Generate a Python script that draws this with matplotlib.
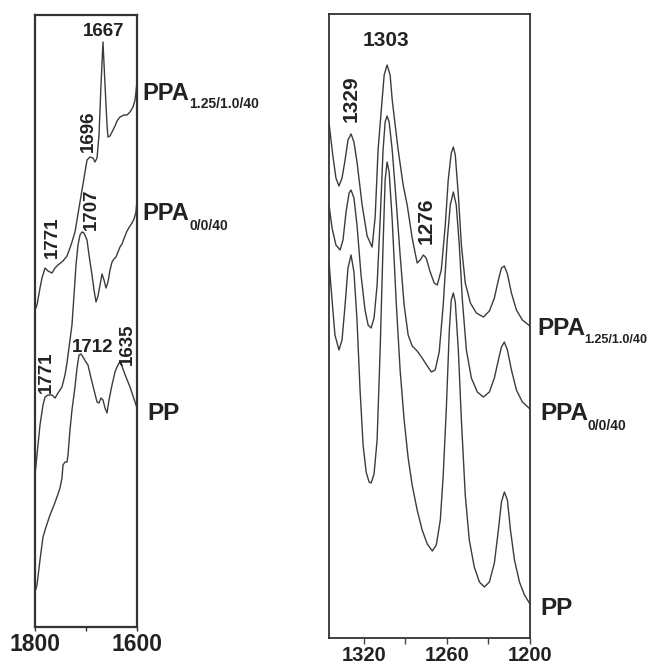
import matplotlib
matplotlib.use("Agg")
import matplotlib.pyplot as plt

# ---------------- data: left panel (1800-1600 cm-1) ----------------
wn_l_ppa125 = [1800.0, 1796.1, 1790.2, 1786.3, 1780.4, 1774.5, 1766.7, 1760.8, 1754.9, 1745.1,
               1737.3, 1731.4, 1727.5, 1721.6, 1709.8, 1698.0, 1692.2, 1686.3, 1682.4, 1678.4,
               1674.5, 1670.6, 1666.7, 1662.7, 1658.8, 1656.9, 1652.9, 1649.0, 1643.1, 1639.2,
               1633.3, 1625.5, 1619.6, 1613.7, 1607.8, 1603.9, 1602.0, 1600.0]
ab_l_ppa125 = [317, 322, 339, 349, 359, 356, 354, 359, 362, 366,
               371, 379, 385, 395, 431, 467, 470, 469, 465, 469,
               492, 542, 585, 542, 502, 490, 491, 495, 501, 506,
               510, 512, 512, 515, 520, 527, 535, 545]

wn_l_ppa0 = [1800.0, 1796.1, 1790.2, 1784.3, 1780.4, 1774.5, 1766.7, 1760.8, 1754.9, 1747.1,
             1741.2, 1737.3, 1731.4, 1727.5, 1723.5, 1719.6, 1715.7, 1711.8, 1707.8, 1703.9,
             1698.0, 1694.1, 1688.2, 1684.3, 1680.4, 1676.5, 1672.5, 1668.6, 1664.7, 1660.8,
             1656.9, 1652.9, 1649.0, 1645.1, 1641.2, 1637.3, 1633.3, 1629.4, 1623.5, 1619.6,
             1613.7, 1609.8, 1605.9, 1602.0, 1600.0]
ab_l_ppa0 = [152, 172, 202, 222, 230, 232, 232, 229, 234, 240,
             252, 264, 287, 302, 332, 362, 382, 392, 395, 394,
             387, 372, 352, 337, 325, 331, 342, 353, 347, 339,
             345, 357, 365, 368, 370, 375, 380, 383, 391, 396,
             401, 404, 408, 415, 427]

wn_l_pp = [1800.0, 1796.1, 1790.2, 1784.3, 1778.4, 1770.6, 1762.7, 1756.9, 1751.0, 1747.1,
           1745.1, 1741.2, 1737.3, 1735.3, 1731.4, 1727.5, 1721.6, 1717.6, 1713.7, 1709.8,
           1705.9, 1700.0, 1696.1, 1690.2, 1684.3, 1678.4, 1674.5, 1670.6, 1666.7, 1662.7,
           1658.8, 1654.9, 1649.0, 1643.1, 1639.2, 1635.3, 1631.4, 1627.5, 1621.6, 1613.7,
           1607.8, 1603.9, 1600.0]
ab_l_pp = [35, 42, 67, 90, 100, 112, 122, 130, 139, 149,
           162, 165, 165, 172, 197, 217, 240, 259, 272, 273,
           270, 265, 262, 249, 237, 225, 224, 229, 227, 219,
           214, 227, 242, 255, 260, 264, 264, 258, 250, 240,
           231, 225, 219]

# ---------------- data: right panel (1345-1200 cm-1) ----------------
wn_r_ppa125 = [1345.0, 1342.1, 1340.0, 1337.8, 1335.6, 1333.4, 1331.3, 1329.1, 1327.0, 1324.8,
               1321.1, 1317.5, 1313.9, 1311.7, 1309.6, 1306.7, 1305.2, 1303.1, 1300.9, 1299.4,
               1295.1, 1291.5, 1288.6, 1285.0, 1281.4, 1279.2, 1277.0, 1274.9, 1272.0, 1269.1,
               1266.9, 1264.0, 1261.1, 1259.0, 1256.8, 1255.3, 1253.9, 1251.7, 1249.5, 1246.7,
               1243.0, 1238.7, 1233.6, 1229.3, 1225.7, 1222.8, 1220.6, 1218.5, 1216.3, 1213.4,
               1209.8, 1205.5, 1200.0]
ab_r_ppa125 = [515, 481, 460, 452, 460, 478, 498, 504, 496, 476,
               433, 402, 391, 421, 488, 538, 563, 573, 563, 538,
               488, 453, 433, 400, 375, 378, 383, 380, 366, 355,
               353, 368, 413, 458, 485, 491, 483, 443, 393, 355,
               335, 325, 321, 327, 340, 358, 370, 372, 364, 345,
               328, 318, 312]

wn_r_ppa0 = [1345.0, 1342.8, 1340.0, 1337.0, 1334.9, 1332.7, 1330.5, 1329.1, 1327.0, 1324.8,
             1321.9, 1319.0, 1316.8, 1314.6, 1312.5, 1310.3, 1308.1, 1306.0, 1304.5, 1303.1,
             1301.6, 1299.4, 1296.6, 1293.7, 1290.8, 1287.9, 1285.0, 1281.4, 1277.8, 1274.1,
             1271.2, 1268.4, 1265.5, 1262.6, 1259.7, 1257.5, 1255.3, 1253.2, 1251.0, 1248.8,
             1245.9, 1242.3, 1238.0, 1233.6, 1229.3, 1225.7, 1222.8, 1220.6, 1218.5, 1216.3,
             1213.4, 1209.8, 1205.5, 1200.0]
ab_r_ppa0 = [433, 410, 393, 388, 398, 426, 445, 448, 440, 413,
             363, 328, 313, 310, 320, 353, 418, 488, 516, 522,
             516, 488, 438, 383, 333, 303, 292, 287, 280, 272,
             266, 268, 286, 333, 398, 433, 446, 433, 393, 338,
             288, 260, 246, 241, 246, 260, 278, 291, 296, 288,
             268, 248, 236, 229]

wn_r_pp = [1345.0, 1342.8, 1340.7, 1337.8, 1335.6, 1333.4, 1331.3, 1329.1, 1327.0, 1324.8,
           1322.6, 1320.4, 1318.2, 1316.1, 1314.6, 1312.5, 1310.3, 1308.1, 1306.0, 1304.5,
           1303.1, 1301.6, 1299.4, 1296.6, 1293.7, 1290.8, 1287.9, 1285.0, 1281.4, 1277.8,
           1274.1, 1270.5, 1267.6, 1264.7, 1262.6, 1260.4, 1258.2, 1256.8, 1255.3, 1253.9,
           1251.7, 1249.5, 1246.7, 1243.8, 1240.2, 1236.5, 1232.9, 1229.3, 1225.7, 1222.8,
           1220.6, 1218.5, 1216.3, 1214.1, 1211.2, 1207.6, 1204.0, 1200.0]
ab_r_pp = [376, 338, 303, 288, 298, 333, 370, 383, 366, 318,
           248, 193, 166, 156, 155, 164, 198, 288, 393, 458,
           476, 466, 418, 338, 268, 218, 180, 153, 128, 108,
           94, 87, 93, 118, 163, 228, 308, 338, 345, 336,
           288, 218, 143, 98, 71, 56, 51, 56, 75, 108,
           136, 146, 138, 108, 78, 56, 43, 34]

left_ticks = [1800, 1700, 1600]
left_ticklabels = ["1800", "", "1600"]
right_ticks = [1320, 1290, 1260, 1230, 1200]
right_ticklabels = ["1320", "", "1260", "", "1200"]

# peak annotations: (text, wavenumber, absorbance, rotation)
left_peaks = [("1667", 1664.7, 596, 0), ("1696", 1696.1, 496, 90), ("1771", 1766.7, 390, 90),
              ("1707", 1690.2, 418, 90), ("1771", 1778.4, 255, 90), ("1712", 1687.3, 280, 0),
              ("1635", 1619.6, 283, 90)]
right_peaks = [("1303", 1303.8, 598, 0), ("1329", 1329.1, 539, 90), ("1276", 1274.9, 417, 90)]

# ---------------- figure ----------------
W, H = 652, 666
fig = plt.figure(figsize=(W / 100, H / 100), dpi=100)
FONT = "Liberation Sans"
TXT = "#222222"
LINE = "#3c3c3c"

axL = fig.add_axes([35 / W, (H - 627) / H, 102 / W, 612 / H])
axR = fig.add_axes([329 / W, (H - 638) / H, 201 / W, 624 / H])

for ax in (axL, axR):
    ax.set_yticks([])
    for s in ax.spines.values():
        s.set_color("#333333")

for x, y in ((wn_l_ppa125, ab_l_ppa125), (wn_l_ppa0, ab_l_ppa0), (wn_l_pp, ab_l_pp)):
    axL.plot(x, y, color=LINE, lw=1.0, solid_joinstyle="round")
for x, y in ((wn_r_ppa125, ab_r_ppa125), (wn_r_ppa0, ab_r_ppa0), (wn_r_pp, ab_r_pp)):
    axR.plot(x, y, color=LINE, lw=1.0, solid_joinstyle="round")

axL.set_xlim(1800, 1600)
axL.set_ylim(0, 612)
axR.set_xlim(1345, 1200)
axR.set_ylim(0, 624)

for s in axL.spines.values():
    s.set_linewidth(1.6)
for s in axR.spines.values():
    s.set_linewidth(1.3)

axL.set_xticks(left_ticks)
axL.set_xticklabels(left_ticklabels, fontfamily=FONT, fontweight="bold", fontsize=16.5, color=TXT)
axL.tick_params(axis="x", direction="out", length=3, width=1.0, pad=1.5, colors="#333333", labelcolor=TXT)

axR.set_xticks(right_ticks)
axR.set_xticklabels(right_ticklabels, fontfamily=FONT, fontweight="bold", fontsize=14.5, color=TXT)
axR.tick_params(axis="x", direction="out", length=4.5, width=1.0, pad=1.5, colors="#444444", labelcolor=TXT)

for t, x, y, r in left_peaks:
    axL.text(x, y, t, rotation=r, ha="center", va="center", fontfamily=FONT,
             fontweight="bold", fontsize=13.5, color=TXT)
for t, x, y, r in right_peaks:
    axR.text(x, y, t, rotation=r, ha="center", va="center", fontfamily=FONT,
             fontweight="bold", fontsize=15, color=TXT)


def label(px, py_base, main, sub=None, spx=None, spy=None, size=17, subsize=10):
    fig.text(px / W, 1 - py_base / H, main, ha="left", va="baseline", fontfamily=FONT,
             fontweight="bold", fontsize=size, color=TXT)
    if sub:
        fig.text(spx / W, 1 - spy / H, sub, ha="left", va="baseline", fontfamily=FONT,
                 fontweight="bold", fontsize=subsize, color=TXT)


label(142, 100, "PPA", "1.25/1.0/40", 189, 108, 17, 10)
label(142, 220, "PPA", "0/0/40", 189, 230, 17, 10)
label(147, 420, "PP", size=17.5)

label(537, 335, "PPA", "1.25/1.0/40", 584, 343, 17.5, 9)
label(540, 420, "PPA", "0/0/40", 587, 430, 17.5, 10)
label(540, 615, "PP", size=17.5)

fig.savefig("out.png", dpi=100, facecolor="white")
